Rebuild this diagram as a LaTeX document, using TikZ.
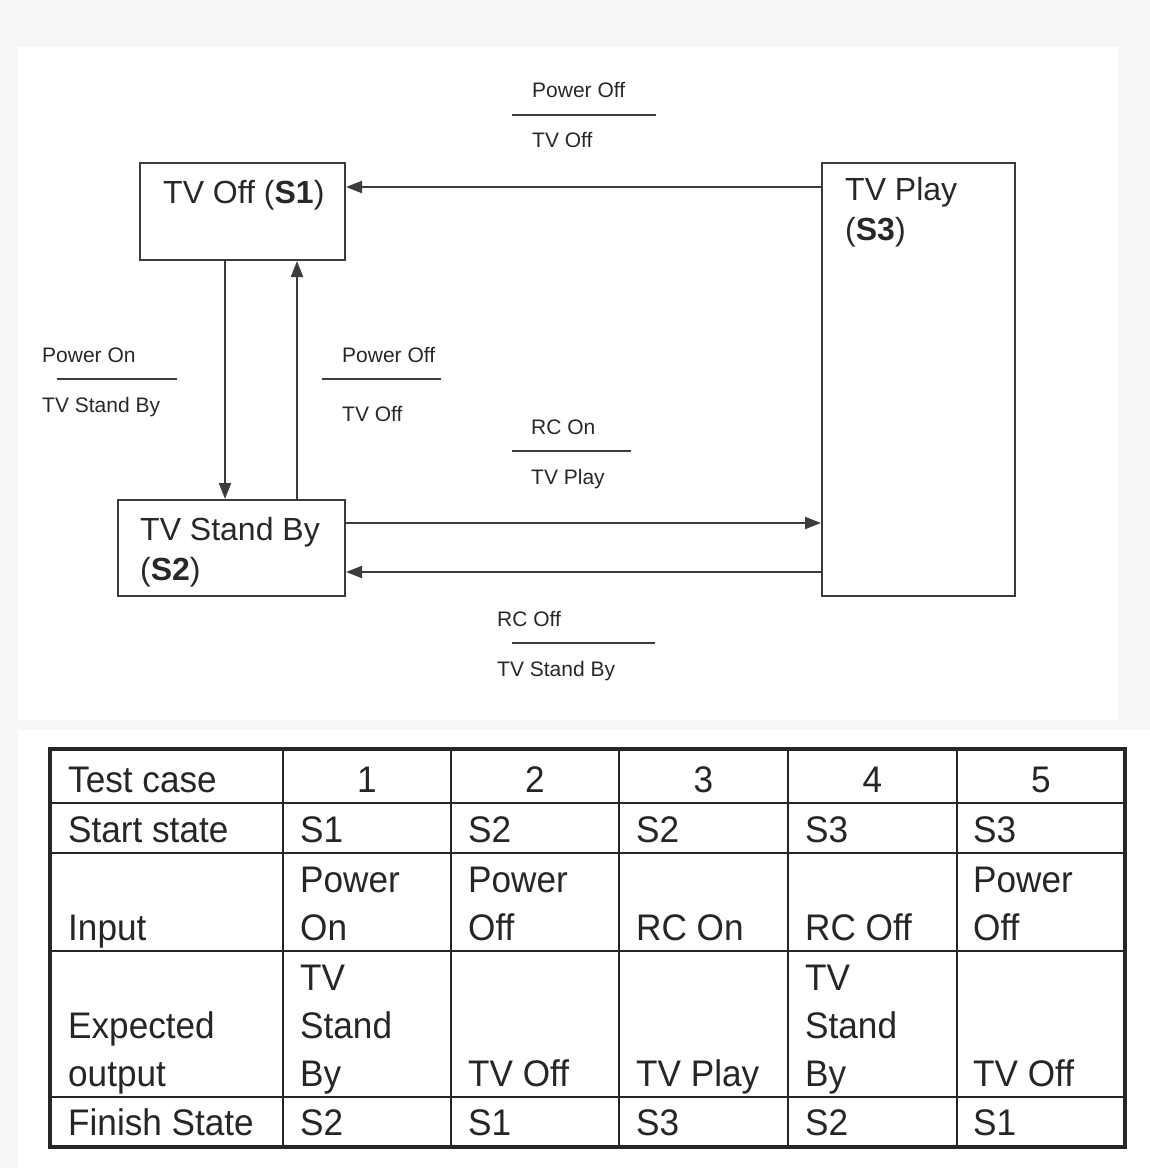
\documentclass[tikz,border=0pt]{standalone}
\usepackage{fontspec}
\setmainfont{Liberation Sans}
\newfontfamily\tabfont[FakeStretch=0.95]{Liberation Sans}
\usetikzlibrary{arrows.meta,positioning}
\definecolor{bggray}{RGB}{245,246,248}
\definecolor{linegray}{RGB}{60,60,60}
\definecolor{textgray}{RGB}{40,40,40}
\begin{document}
\begin{tikzpicture}[x=1pt,y=-1pt,
    state/.style={draw=linegray,line width=2pt,inner sep=0pt},
    stxt/.style={anchor=base west,inner sep=0pt,text=textgray,align=left,
      font=\fontsize{32}{40}\selectfont},
    lbl/.style={anchor=base west,inner sep=0pt,text=textgray,
      font=\fontsize{21}{25}\selectfont},
    bar/.style={draw=linegray,line width=2pt},
    arr/.style={draw=linegray,line width=2pt,-{Triangle[length=16pt,width=12pt]}},
    tline/.style={draw=black!85,line width=2pt},
    cell/.style={anchor=base west,inner sep=0pt,text=black!85,align=left,
      font=\tabfont\fontsize{37}{48}\selectfont},
    num/.style={anchor=base,inner sep=0pt,text=black!85,
      font=\tabfont\fontsize{37}{48}\selectfont}]
  \useasboundingbox (0,0) rectangle (1150,1168);
  \fill[bggray] (0,0) rectangle (1150,1168);
  \fill[white] (18,47) rectangle (1118,720);
  \fill[white] (18,730) rectangle (1150,1168);

  % states (multi-line texts sit on their last baseline)
  \node[state,minimum width=205pt,minimum height=97pt] (s1) at (242.5,211.5) {};
  \node[state,minimum width=227pt,minimum height=96pt] (s2) at (231.5,548) {};
  \node[state,minimum width=193pt,minimum height=433pt] (s3) at (918.5,379.5) {};
  \node[stxt] (s1txt) at (163,203) {TV Off (\textbf{S1})};
  \node[stxt] (s2txt) at (140,580) {TV Stand By\\(\textbf{S2})};
  \node[stxt] (s3txt) at (845,240) {TV Play\\(\textbf{S3})};

  % transitions
  \draw[arr] ([yshift=24.5pt]s1.east -| s3.west) -- ([yshift=24.5pt]s1.east);
  \draw[arr] ([xshift=-17.5pt]s1.south) -- ([xshift=-17.5pt]s1.south |- s2.north);
  \draw[arr] ([xshift=54.5pt]s1.south |- s2.north) -- ([xshift=54.5pt]s1.south);
  \draw[arr] ([yshift=25pt]s2.east) -- ([yshift=25pt]s2.east -| s3.west);
  \draw[arr] ([yshift=-24pt]s2.east -| s3.west) -- ([yshift=-24pt]s2.east);

  % event / action labels
  \node[lbl] (ev31) at (532,97) {Power Off};
  \draw[bar] (512,115) -- (656,115);
  \node[lbl] (ac31) at (532,147) {TV Off};
  \node[lbl] (ev12) at (42,362) {Power On};
  \draw[bar] (57,379) -- (177,379);
  \node[lbl] (ac12) at (42,412) {TV Stand By};
  \node[lbl] (ev21) at (342,362) {Power Off};
  \draw[bar] (322,379) -- (441,379);
  \node[lbl] (ac21) at (342,421) {TV Off};
  \node[lbl] (ev23) at (531,434) {RC On};
  \draw[bar] (512,451) -- (631,451);
  \node[lbl] (ac23) at (531,484) {TV Play};
  \node[lbl] (ev32) at (497,626) {RC Off};
  \draw[bar] (512,643) -- (655,643);
  \node[lbl] (ac32) at (497,676) {TV Stand By};

  % test table
  \foreach \cx in {283,451,619,788,957}
    \draw[tline] (\cx,749) -- (\cx,1147);
  \foreach \ry in {803,853,951,1097}
    \draw[tline] (50,\ry) -- (1125,\ry);
  \draw[black!85,line width=4pt] (50,749) rectangle (1125,1147);

  \node[cell] (tc) at (68,792) {Test case};
  \foreach \n/\cx in {1/367,2/535,3/703.5,4/872.5,5/1041}
    \node[num] (tc\n) at (\cx,792) {\n};
  \node[cell] (ss) at (68,842) {Start state};
  \foreach \s/\cx [count=\i] in {S1/300,S2/468,S2/636,S3/805,S3/973}
    \node[cell] (ss\i) at (\cx,842) {\s};
  \node[cell] (in) at (68,940) {Input};
  \node[cell] (in1) at (300,940) {Power\\On};
  \node[cell] (in2) at (468,940) {Power\\Off};
  \node[cell] (in3) at (636,940) {RC On};
  \node[cell] (in4) at (805,940) {RC Off};
  \node[cell] (in5) at (973,940) {Power\\Off};
  \node[cell] (eo) at (68,1086) {Expected\\output};
  \node[cell] (eo1) at (300,1086) {TV\\Stand\\By};
  \node[cell] (eo2) at (468,1086) {TV Off};
  \node[cell] (eo3) at (636,1086) {TV Play};
  \node[cell] (eo4) at (805,1086) {TV\\Stand\\By};
  \node[cell] (eo5) at (973,1086) {TV Off};
  \node[cell] (fs) at (68,1135) {Finish State};
  \foreach \s/\cx [count=\i] in {S2/300,S1/468,S3/636,S2/805,S1/973}
    \node[cell] (fs\i) at (\cx,1135) {\s};
\end{tikzpicture}
\end{document}
